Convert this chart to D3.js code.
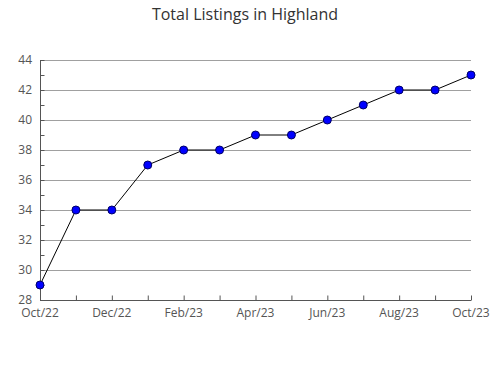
<!DOCTYPE html>
<html>
<head>
<meta charset="utf-8">
<script src="https://cdn.jsdelivr.net/npm/d3@7"></script>
<style>
  body { margin: 0; background: #fff; }
  text { font-family: "Open Sans", "Noto Sans", sans-serif; }
</style>
</head>
<body>
<div id="plot"></div>
<script>
// Chart data
const months = ["Oct/22", "Nov/22", "Dec/22", "Jan/23", "Feb/23", "Mar/23", "Apr/23",
                 "May/23", "Jun/23", "Jul/23", "Aug/23", "Sep/23", "Oct/23"];
const listings = [29, 34, 34, 37, 38, 38, 39, 39, 40, 41, 42, 42, 43];
const yTicks = [28, 30, 32, 34, 36, 38, 40, 42, 44];
const yMinorTicks = [29, 31, 33, 35, 37, 39, 41, 43];
const xLabels = ["Oct/22", "Dec/22", "Feb/23", "Apr/23", "Jun/23", "Aug/23", "Oct/23"];

const margin = {top: 60, right: 19, bottom: 80, left: 40};
const width = 490 - margin.left - margin.right;
const height = 380 - margin.top - margin.bottom;

const svg = d3.select("#plot")
    .append("svg")
    .attr("width", 490)
    .attr("height", 380);

svg.append("text")
    .attr("x", 245)
    .attr("y", 20)
    .attr("text-anchor", "middle")
    .style("font-size", "16px")
    .style("fill", "#333")
    .text("Total Listings in Highland");

const g = svg.append("g")
    .attr("transform", `translate(${margin.left},${margin.top})`);

const x = d3.scalePoint()
    .domain(months)
    .range([0, width]);

const y = d3.scaleLinear()
    .domain([28, 44])
    .range([height, 0]);

// Gridlines
g.append("g")
    .selectAll("line")
    .data(yTicks.slice(1))
    .join("line")
    .attr("x1", 0)
    .attr("x2", width)
    .attr("y1", d => y(d) + 0.5)
    .attr("y2", d => y(d) + 0.5)
    .attr("stroke", "#a0a0a0")
    .attr("stroke-width", 1);

// Y axis (ticks pointing inward)
const yAxis = g.append("g")
    .attr("transform", "translate(0.5,0)")
    .call(d3.axisRight(y).tickValues(yTicks).tickSize(4).tickFormat(""));
yAxis.selectAll("line, path").attr("stroke", "#555");
yAxis.select(".domain").attr("d", `M0,${height}V0`);

g.append("g")
    .attr("transform", "translate(0.5,0)")
    .call(d3.axisRight(y).tickValues(yMinorTicks).tickSize(4).tickFormat(""))
    .call(s => s.select(".domain").remove())
    .selectAll("line").attr("stroke", "#555");

g.append("g")
    .selectAll("text")
    .data(yTicks)
    .join("text")
    .attr("x", -8)
    .attr("y", d => y(d))
    .attr("dy", "0.35em")
    .attr("text-anchor", "end")
    .style("font-size", "12px")
    .style("fill", "#555")
    .text(d => d);

// X axis (ticks pointing up)
const xAxis = g.append("g")
    .attr("transform", `translate(0,${height + 0.5})`)
    .call(d3.axisTop(x).tickSize(5).tickFormat(""));
xAxis.selectAll("line, path").attr("stroke", "#555");
xAxis.select(".domain").attr("d", `M0,0H${width}`);

g.append("g")
    .selectAll("text")
    .data(xLabels)
    .join("text")
    .attr("x", d => x(d))
    .attr("y", height + 17)
    .attr("text-anchor", "middle")
    .style("font-size", "12px")
    .style("fill", "#555")
    .text(d => d);

// Line
const line = d3.line()
    .x((d, i) => x(months[i]))
    .y(d => y(d));

g.append("path")
    .datum(listings)
    .attr("d", line)
    .attr("fill", "none")
    .attr("stroke", "#000")
    .attr("stroke-width", 1);

// Points
g.append("g")
    .selectAll("circle")
    .data(listings)
    .join("circle")
    .attr("cx", (d, i) => x(months[i]))
    .attr("cy", d => y(d))
    .attr("r", 4)
    .attr("fill", "#0000ff")
    .attr("stroke", "#000066")
    .attr("stroke-width", 1);
</script>
</body>
</html>
